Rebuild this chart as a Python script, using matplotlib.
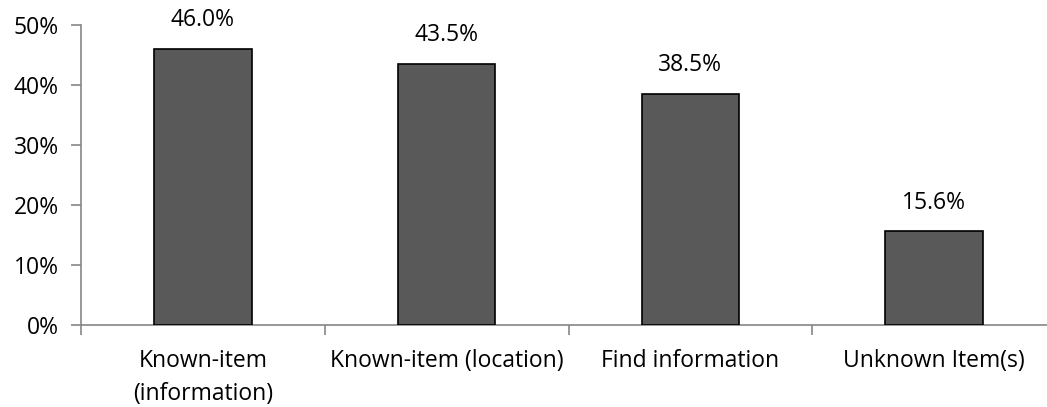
import matplotlib
matplotlib.use("Agg")
import matplotlib.pyplot as plt
from matplotlib.ticker import FuncFormatter, FixedLocator

categories = ["Known-item\n(information)", "Known-item (location)", "Find information", "Unknown Item(s)"]
values = [46.0, 43.5, 38.5, 15.6]

plt.rcParams['font.family'] = ['Open Sans', 'DejaVu Sans']
fs = 16.5

fig = plt.figure(figsize=(10.47, 4.07), dpi=100)
# right edge runs past the figure like the original (axis gets clipped)
ax = fig.add_axes([81 / 1047, 82 / 407, 975 / 1047, 300 / 407])

xs = list(range(len(values)))
bars = ax.bar(xs, values, width=0.4, color="#595959", edgecolor="black", linewidth=1.2, zorder=3)

for x, v in zip(xs, values):
    ax.annotate(f"{v:.1f}%", (x, v), xytext=(0, 12), textcoords="offset points",
                ha="center", va="bottom", fontsize=fs)

ax.set_ylim(0, 50)
ax.set_xlim(-0.5, len(values) - 0.5)
ax.set_yticks([0, 10, 20, 30, 40, 50])
ax.yaxis.set_major_formatter(FuncFormatter(lambda v, p: f"{int(v)}%"))

ax.set_xticks(xs)
ax.set_xticklabels(categories, linespacing=1.5)
ax.xaxis.set_minor_locator(FixedLocator([i - 0.5 for i in range(len(values) + 1)]))
ax.tick_params(axis="x", which="major", length=0, pad=17, labelsize=fs)
ax.tick_params(axis="x", which="minor", length=7, color="#868686", width=1.2)
ax.tick_params(axis="y", length=7, color="#868686", width=1.2, pad=9, labelsize=fs)

for side in ["top", "right"]:
    ax.spines[side].set_visible(False)
for side in ["left", "bottom"]:
    ax.spines[side].set_color("#868686")
    ax.spines[side].set_linewidth(1.2)

fig.savefig("out.png", dpi=100)
